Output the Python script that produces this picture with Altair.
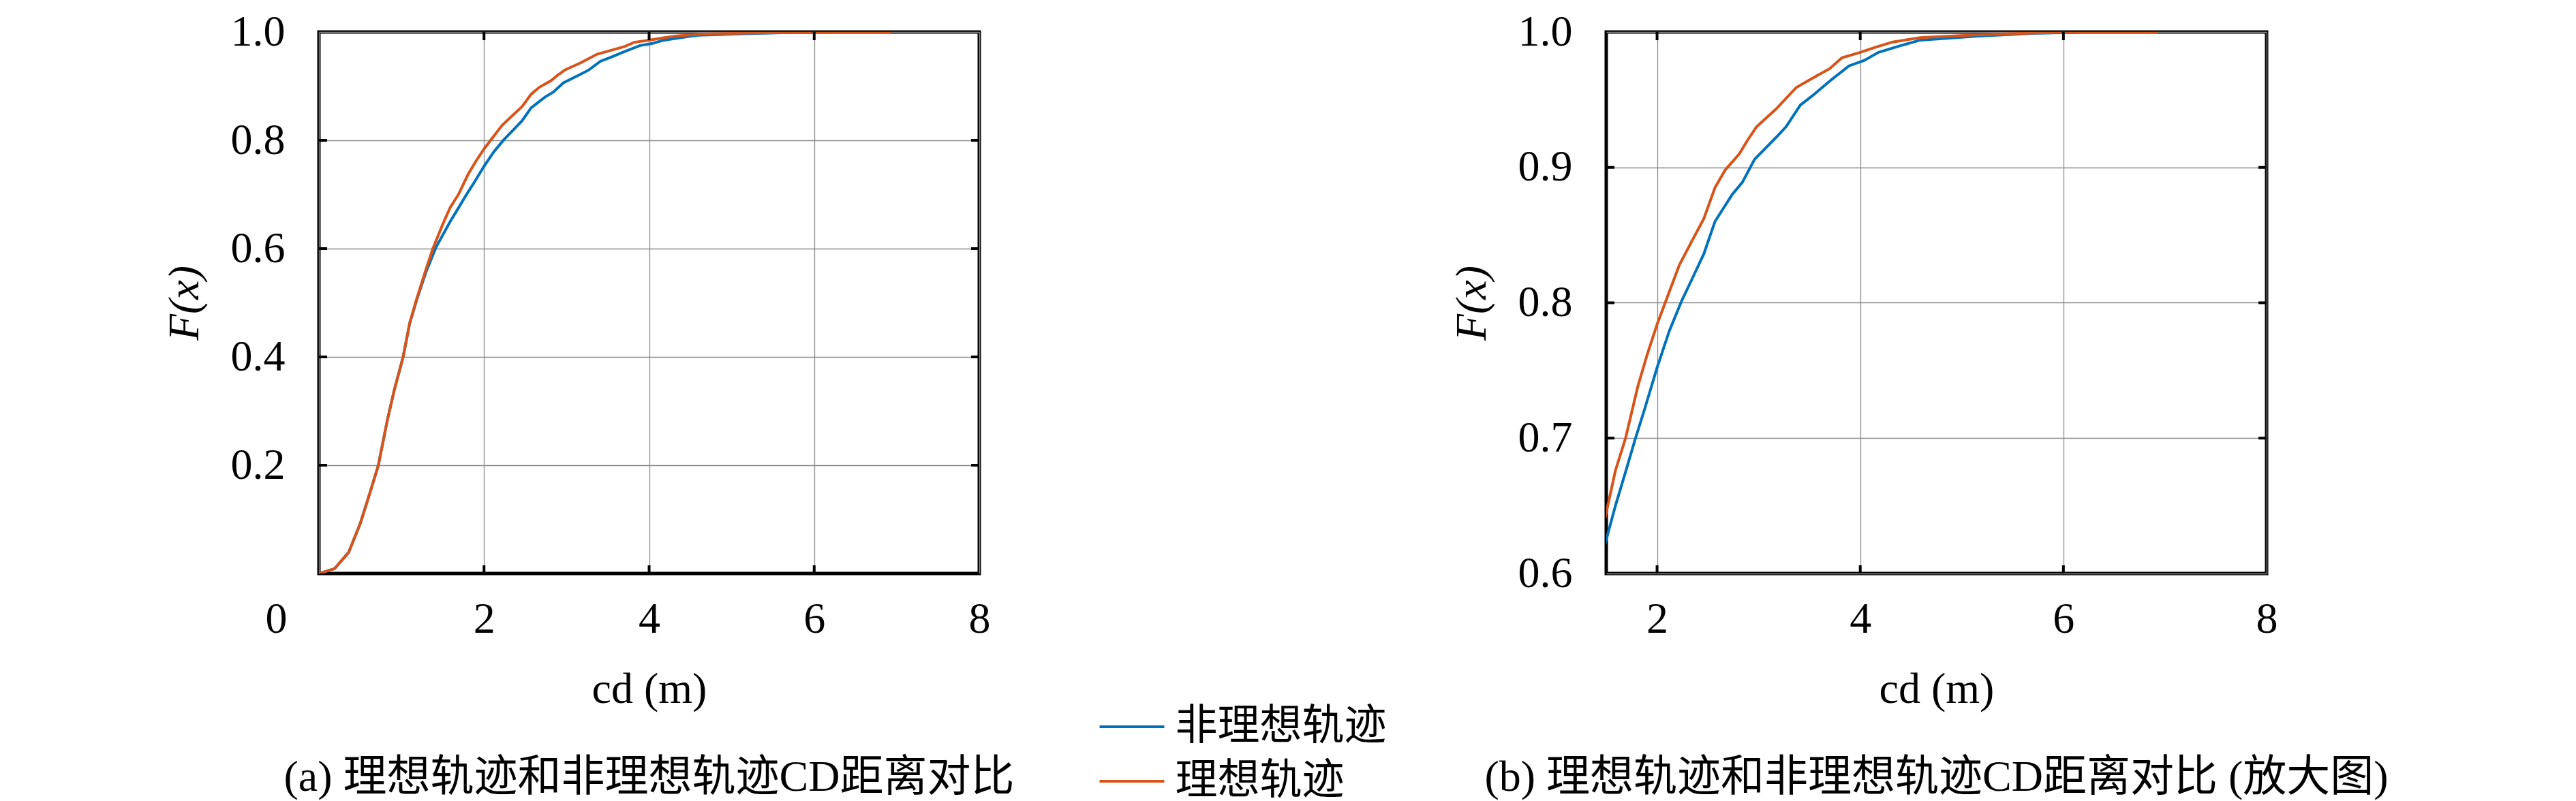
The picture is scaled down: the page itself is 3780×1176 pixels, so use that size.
import altair as alt
import pandas as pd

# ---------------- data ----------------
series_names = ["非理想轨迹", "理想轨迹"]
series_colors = ["#0072BD", "#D95319"]

x_nonideal = [0, 0.19, 0.36, 0.50, 0.61, 0.72, 0.83, 0.91, 1.02, 1.10, 1.19, 1.30,
              1.42, 1.50, 1.59, 1.69, 1.78, 1.88, 2.00, 2.12, 2.24, 2.36, 2.46, 2.57,
              2.74, 2.84, 2.96, 3.17, 3.27, 3.41, 3.53, 3.72, 3.89, 4.04, 4.18, 4.40,
              4.59, 5.16, 5.70, 6.20, 6.93]
F_nonideal = [0, 0.009, 0.039, 0.092, 0.145, 0.200, 0.284, 0.337, 0.400, 0.462, 0.508, 0.558,
              0.603, 0.625, 0.650, 0.675, 0.698, 0.722, 0.752, 0.779, 0.801, 0.820, 0.836, 0.860,
              0.880, 0.889, 0.906, 0.922, 0.930, 0.946, 0.953, 0.965, 0.975, 0.979, 0.985, 0.990,
              0.994, 0.997, 0.999, 1.0, 1.0]

x_ideal = [0, 0.19, 0.36, 0.50, 0.61, 0.72, 0.83, 0.91, 1.02, 1.10, 1.19, 1.30,
           1.38, 1.50, 1.59, 1.69, 1.81, 1.90, 2.00, 2.10, 2.22, 2.36, 2.46, 2.57,
           2.67, 2.81, 2.89, 2.98, 3.17, 3.37, 3.51, 3.70, 3.82, 4.00, 4.16, 4.32,
           4.59, 5.16, 5.80, 6.00, 6.93]
F_ideal = [0, 0.009, 0.039, 0.092, 0.145, 0.200, 0.284, 0.337, 0.400, 0.463, 0.510, 0.563,
           0.600, 0.645, 0.676, 0.700, 0.738, 0.761, 0.784, 0.804, 0.828, 0.848, 0.862, 0.885,
           0.898, 0.910, 0.920, 0.930, 0.943, 0.959, 0.965, 0.973, 0.981, 0.985, 0.989, 0.9926,
           0.9958, 0.998, 0.9995, 1.0, 1.0]

left_x_ticks = [0, 2, 4, 6, 8]
left_y_ticks = [0.2, 0.4, 0.6, 0.8, 1.0]
left_x_inner = [2, 4, 6]
left_y_inner = [0.2, 0.4, 0.6, 0.8]
right_x_ticks = [2, 4, 6, 8]
right_y_ticks = [0.6, 0.7, 0.8, 0.9, 1.0]
right_x_inner = [2, 4, 6]
right_y_inner = [0.7, 0.8, 0.9]

caption_a = "(a) 理想轨迹和非理想轨迹CD距离对比"
caption_b = "(b) 理想轨迹和非理想轨迹CD距离对比 (放大图)"
x_title = "cd (m)"
y_title = "F(x)"

df = pd.DataFrame({
    "series": [series_names[0]] * len(x_nonideal) + [series_names[1]] * len(x_ideal),
    "x": x_nonideal + x_ideal,
    "F": F_nonideal + F_ideal,
})

# ---------------- style ----------------
W, H = 969, 795
SERIF = "Liberation Serif, Noto Sans CJK SC"
FS = 64
TICK_LEN = 12
TICK_W = 4
GRID = "#8a8a8a"


def panel(xdom, ydom, xt, yt, xin, yin, caption, zero_shift):
    xscale = alt.Scale(domain=xdom, nice=False, zero=False)
    yscale = alt.Scale(domain=ydom, nice=False, zero=False)
    if zero_shift:
        x_label_offset = {"condition": {"test": "datum.value === 0", "value": -63}, "value": 0}
    else:
        x_label_offset = 0
    xaxis = alt.Axis(values=xt, format="d", grid=True, gridColor=GRID, gridWidth=1.3,
                     ticks=False, tickSize=0, domain=False, labelFlush=False, labelOverlap=False,
                     labelPadding=67, labelBaseline="middle", labelFontSize=FS, labelFont=SERIF,
                     labelColor="black", labelOffset=x_label_offset,
                     title=x_title, titleFont=SERIF, titleFontSize=FS, titleFontWeight="normal",
                     titleColor="black", titleY=170, titleX=W / 2, titleBaseline="middle",
                     titleAlign="center")
    yaxis = alt.Axis(values=yt, format=".1f", grid=True, gridColor=GRID, gridWidth=1.3,
                     ticks=False, tickSize=0, domain=False, labelFlush=False, labelOverlap=False,
                     labelPadding=50, labelBaseline="middle", labelFontSize=FS, labelFont=SERIF,
                     labelColor="black",
                     title=y_title, titleFont=SERIF, titleFontSize=FS, titleFontWeight="normal",
                     titleFontStyle="italic", titleColor="black", titleX=-197, titleY=H / 2,
                     titleAngle=270, titleBaseline="middle", titleAlign="center")

    lines = alt.Chart(df).mark_line(strokeWidth=4, clip=True).encode(
        x=alt.X("x:Q", scale=xscale, axis=xaxis),
        y=alt.Y("F:Q", scale=yscale, axis=yaxis),
        color=alt.Color("series:N",
                        scale=alt.Scale(domain=series_names, range=series_colors),
                        legend=alt.Legend(orient="none", legendX=1162, legendY=989, title=None,
                                          symbolType="M-2,0H2", symbolSize=2256,
                                          symbolStrokeWidth=4, labelFont=SERIF,
                                          labelFontSize=62, labelColor="black",
                                          labelOffset=32.5, labelLimit=1000, rowPadding=18,
                                          padding=0, direction="vertical")),
        detail="series:N",
    )

    ydf = pd.DataFrame({"x": [xdom[0]] * len(yin), "F": yin})
    xdf = pd.DataFrame({"x": xin, "F": [ydom[0]] * len(xin)})
    rule = dict(color="black", strokeWidth=TICK_W)
    t_left = alt.Chart(ydf).mark_rule(**rule).encode(
        y=alt.Y("F:Q", scale=yscale, axis=yaxis), x=alt.value(0), x2=alt.value(TICK_LEN))
    t_right = alt.Chart(ydf).mark_rule(**rule).encode(
        y=alt.Y("F:Q", scale=yscale, axis=yaxis), x=alt.value(W), x2=alt.value(W - TICK_LEN))
    t_bottom = alt.Chart(xdf).mark_rule(**rule).encode(
        x=alt.X("x:Q", scale=xscale, axis=xaxis), y=alt.value(H), y2=alt.value(H - TICK_LEN))
    t_top = alt.Chart(xdf).mark_rule(**rule).encode(
        x=alt.X("x:Q", scale=xscale, axis=xaxis), y=alt.value(0), y2=alt.value(TICK_LEN))

    return alt.layer(lines, t_left, t_right, t_bottom, t_top).properties(
        width=W, height=H,
        title=alt.TitleParams(caption, orient="bottom", frame="group", anchor="middle",
                              offset=98, baseline="middle", fontSize=FS, font=SERIF,
                              fontWeight="normal", color="black"),
    )


left = panel([0, 8], [0, 1], left_x_ticks, left_y_ticks, left_x_inner, left_y_inner,
             caption_a, True)
right = panel([1.5, 8], [0.6, 1.0], right_x_ticks, right_y_ticks, right_x_inner, right_y_inner,
              caption_b, False)

chart = alt.hconcat(left, right, spacing=634).properties(
    padding={"left": 228, "top": 4, "right": 0, "bottom": 0}
).configure(background="white", font=SERIF).configure_view(
    stroke="black", strokeWidth=5, fill="white"
)

chart.save("out.html", embed_options={"renderer": "svg", "actions": False})
